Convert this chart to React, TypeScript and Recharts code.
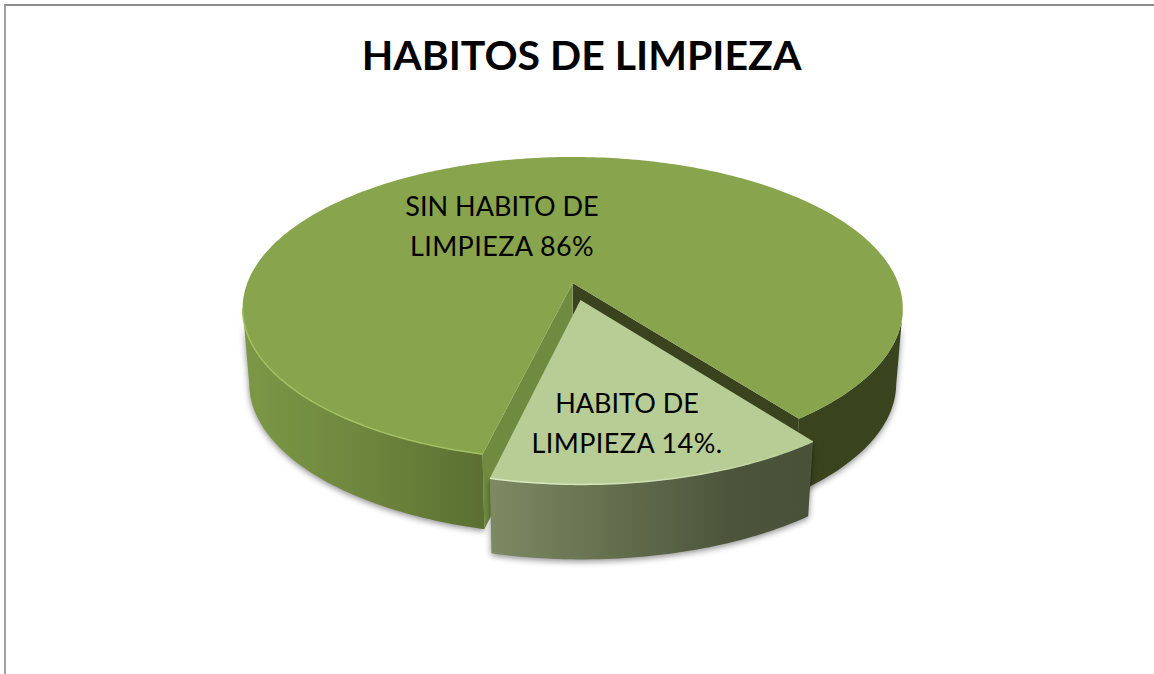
import React from "react";
import { PieChart, Pie } from "recharts";

const TITLE = "HABITOS DE LIMPIEZA";
const CATEGORIES = ["SIN HABITO DE LIMPIEZA", "HABITO DE LIMPIEZA"];
const VALUES = [86, 14];
const LABEL_LINES = [
  ["SIN HABITO DE", "LIMPIEZA 86%"],
  ["HABITO DE", "LIMPIEZA 14%."],
];
const rows = CATEGORIES.map((name, i) => ({ name, value: VALUES[i] }));

const TILT = 0.4523;
const PERSPECTIVE = 0.168;
const DEPTH = 75;
const BASE_SCALE = 0.98;
const EXPLODE = 0.115;
const RAD = Math.PI / 180;
const FONT = "Lato, Carlito, sans-serif";

type Pt = [number, number];

function Slice3D(props: any) {
  const { cx, cy, outerRadius: R, startAngle, endAngle, index } = props;
  const isSlice = index === 1;
  const lo = Math.min(startAngle, endAngle);
  const hi = Math.max(startAngle, endAngle);
  const mid = ((lo + hi) / 2) * RAD;
  const off = isSlice ? EXPLODE : 0;
  const ou = off * Math.cos(mid);
  const ov = off * Math.sin(mid);

  const proj = (u0: number, v0: number): Pt => {
    const u = u0 + ou;
    const v = v0 + ov;
    const w = 1 + PERSPECTIVE * v;
    return [cx + (R * u) / w, cy - (R * TILT * v) / w];
  };
  const rim = (deg: number): Pt => proj(Math.cos(deg * RAD), Math.sin(deg * RAD));
  const down = ([x, y]: Pt): Pt => [cx + (x - cx) * BASE_SCALE, y + DEPTH];
  const d = (pts: Pt[], close = true) =>
    "M" + pts.map((p) => p[0].toFixed(2) + " " + p[1].toFixed(2)).join("L") + (close ? "Z" : "");

  const steps = Math.ceil(hi - lo);
  const angles: number[] = [];
  for (let i = 0; i <= steps; i++) angles.push(lo + ((hi - lo) * i) / steps);
  const arc = angles.map(rim);
  const apex = proj(0, 0);
  const top = d([apex, ...arc]);

  // Only the part of the outer wall below the ellipse silhouette is visible.
  const runs: number[][] = [];
  let cur: number[] = [];
  angles.forEach((a) => {
    if (Math.sin(a * RAD) < -PERSPECTIVE) cur.push(a);
    else if (cur.length) {
      runs.push(cur);
      cur = [];
    }
  });
  if (cur.length) runs.push(cur);

  const first = rim(lo);
  const last = rim(hi);
  const prefix = isSlice ? "slice" : "main";
  const shadow = { filter: "drop-shadow(0px 2px 3px rgba(0,0,0,0.45))" };

  return (
    <g>
      <defs>
        <linearGradient id="mainLeft" gradientUnits="userSpaceOnUse" x1="243" x2="486" y1="0" y2="0">
          <stop offset="0" stopColor="#7c9846" />
          <stop offset="0.55" stopColor="#6d843d" />
          <stop offset="1" stopColor="#5a6f30" />
        </linearGradient>
        <linearGradient id="sliceWall" gradientUnits="userSpaceOnUse" x1="493" x2="808" y1="0" y2="0">
          <stop offset="0" stopColor="#7c8962" />
          <stop offset="0.75" stopColor="#4c553b" />
          <stop offset="1" stopColor="#495238" />
        </linearGradient>
        <linearGradient id="sliceRim" gradientUnits="userSpaceOnUse" x1="492" x2="812" y1="0" y2="0">
          <stop offset="0" stopColor="#dbe8c4" />
          <stop offset="0.7" stopColor="#c9dbac" />
          <stop offset="1" stopColor="#b7cd95" />
        </linearGradient>
      </defs>
      {runs.map((run, i) => {
        const upper = run.map(rim);
        const lower = upper.map(down).reverse();
        const isRight = !isSlice && Math.cos(run[0] * RAD) > 0;
        const fill = isSlice ? "url(#sliceWall)" : isRight ? "#39441e" : "url(#mainLeft)";
        return <path key={prefix + i} d={d([...upper, ...lower])} fill={fill} style={shadow} />;
      })}
      {!isSlice && (
        <>
          <path d={d([apex, first, down(first), down(apex)])} fill="#39441e" />
          <path d={d([apex, last, down(last), down(apex)])} fill="#708b40" />
        </>
      )}
      <path d={top} fill={props.fill} />
      {runs.map((run, i) => {
        const isRight = !isSlice && Math.cos(run[0] * RAD) > 0;
        if (isRight) return null;
        return (
          <path
            key={"rim" + i}
            d={d(run.map(rim), false)}
            fill="none"
            stroke={isSlice ? "url(#sliceRim)" : "#a2c162"}
            strokeWidth={1.5}
          />
        );
      })}
    </g>
  );
}

const LABEL_ANCHORS = [
  { x: 502, y: 216 },
  { x: 627, y: 413 },
];

function renderLabel(props: any) {
  const { index } = props;
  const pos = LABEL_ANCHORS[index];
  return (
    <text
      key={index}
      x={pos.x}
      y={pos.y}
      textAnchor="middle"
      fill="#000"
      style={{ fontFamily: FONT, fontSize: 27 }}
    >
      {LABEL_LINES[index].map((line, i) => (
        <tspan key={i} x={pos.x} y={pos.y + i * 39.5} letterSpacing={i === 1 ? 0.4 : 0}>
          {line}
        </tspan>
      ))}
    </text>
  );
}

export default function App() {
  return (
    <div style={{ position: "absolute", left: 0, top: 0, width: 1154, height: 674, background: "#fff", overflow: "hidden" }}>
      <div style={{ position: "absolute", left: 4, top: 4, width: 1150, height: 670, borderTop: "2px solid #8c8c8c", borderLeft: "2px solid #a0a0a0", boxSizing: "border-box" }} />
      <div style={{ position: "absolute", left: 0, top: 0 }}>
        <PieChart width={1154} height={674} margin={{ top: 0, right: 0, bottom: 0, left: 0 }}>
          <text x={581.5} y={70} textAnchor="middle" fill="#000" style={{ fontFamily: FONT, fontSize: 41, fontWeight: 700 }}>
            {TITLE}
          </text>
          <Pie
            data={rows}
            dataKey="value"
            nameKey="name"
            cx={572.7}
            cy={283}
            innerRadius={0}
            outerRadius={325.4}
            startAngle={-53}
            endAngle={307}
            stroke="none"
            fill="#88a44d"
            paddingAngle={0}
            shape={(p: any, i: number) => (
              <Slice3D {...p} index={i} fill={i === 1 ? "#b7cd95" : "#88a44d"} />
            )}
            label={renderLabel}
            labelLine={false}
            isAnimationActive={false}
          />
        </PieChart>
      </div>
    </div>
  );
}
